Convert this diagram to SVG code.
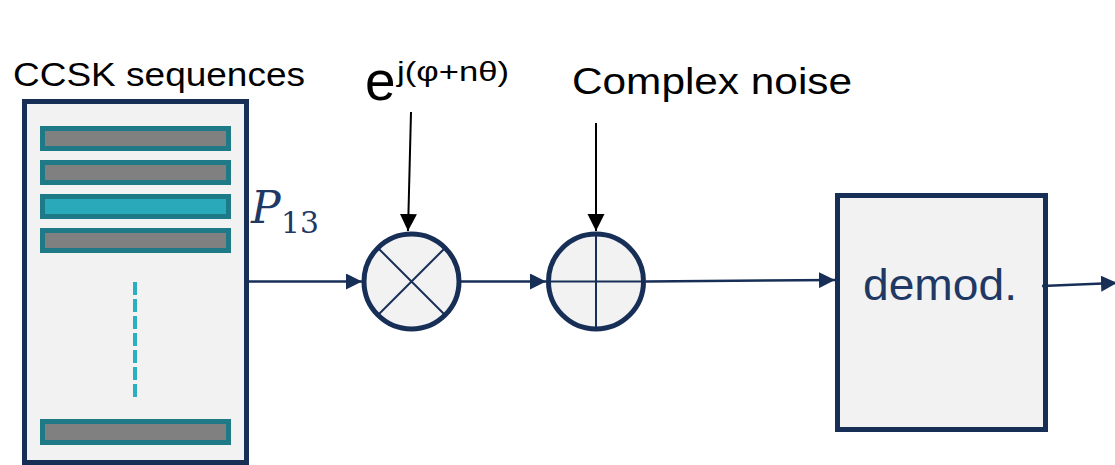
<svg xmlns="http://www.w3.org/2000/svg" width="1115" height="465" viewBox="0 0 1115 465">
<defs>
<marker id="navyArrow" markerUnits="userSpaceOnUse" markerWidth="18" markerHeight="16" refX="16" refY="8" orient="auto">
<path d="M0,0 L16,8 L0,16 Z" fill="#172F57"/>
</marker>
<marker id="blackArrow" markerUnits="userSpaceOnUse" markerWidth="18" markerHeight="18" refX="17" refY="8.5" orient="auto">
<path d="M0,0 L17,8.5 L0,17 Z" fill="#000"/>
</marker>
</defs>
<style>
.box{fill:#F2F2F2;stroke:#172F57;stroke-width:5}
.bar{fill:#808080;stroke:#1F7A87;stroke-width:5}
.bar-hi{fill:#2AA9BA;stroke:#1F7A87;stroke-width:5}
.sym{stroke:#172F57;stroke-width:2;fill:none}
.conn{stroke:#172F57;stroke-width:2.5;fill:none;marker-end:url(#navyArrow)}
.input{stroke:#000;stroke-width:2;fill:none;marker-end:url(#blackArrow)}
.lbl{font-family:"Liberation Sans",Arial,sans-serif;fill:#000}
.math{font-family:"DejaVu Serif","Liberation Serif",serif;fill:#1F3864}
</style>
<rect width="1115" height="465" fill="#fff"/>

<g id="ccsk">
<rect class="box" x="24.5" y="101.5" width="222" height="361"/>
<rect class="bar" x="42.5" y="128.5" width="186" height="20"/>
<rect class="bar" x="42.5" y="162.5" width="186" height="20"/>
<rect class="bar-hi" x="42.5" y="196.5" width="186" height="20"/>
<rect class="bar" x="42.5" y="230.5" width="186" height="20"/>
<line x1="135" y1="282" x2="135" y2="401" stroke="#2AAFC0" stroke-width="4" stroke-dasharray="13 4"/>
<rect class="bar" x="42.5" y="421.5" width="186" height="21"/>
<text class="lbl" x="13" y="86" font-size="34" textLength="292" lengthAdjust="spacingAndGlyphs">CCSK sequences</text>
<text class="math" x="251" y="223" font-style="italic" font-size="44">P</text>
<text class="math" x="281" y="233" font-size="30" textLength="38" lengthAdjust="spacingAndGlyphs">13</text>
</g>

<g id="multiplier">
<circle cx="411.5" cy="281.5" r="47.5" fill="#F2F2F2" stroke="#172F57" stroke-width="5"/>
<line class="sym" x1="378" y1="248" x2="445" y2="315"/>
<line class="sym" x1="445" y1="248" x2="378" y2="315"/>
<text class="lbl" x="365" y="100" font-size="55">e</text>
<text class="lbl" x="397" y="81" font-size="28" textLength="112" lengthAdjust="spacingAndGlyphs">j(φ+nθ)</text>
</g>

<g id="adder">
<circle cx="596" cy="281.5" r="47.5" fill="#F2F2F2" stroke="#172F57" stroke-width="5"/>
<line class="sym" x1="548.5" y1="281.5" x2="643.5" y2="281.5"/>
<line class="sym" x1="596" y1="234" x2="596" y2="329"/>
<text class="lbl" x="572" y="94" font-size="37" textLength="280" lengthAdjust="spacingAndGlyphs">Complex noise</text>
</g>

<g id="demod">
<rect class="box" x="837.5" y="195.5" width="208" height="234"/>
<text x="863" y="300" font-family="'Liberation Sans',Arial,sans-serif" font-size="45" fill="#1F3864" textLength="154" lengthAdjust="spacingAndGlyphs">demod.</text>
</g>

<g id="connectors">
<line class="conn" x1="249" y1="281.5" x2="362" y2="281.5"/>
<line class="conn" x1="461" y1="281.5" x2="546" y2="281.5"/>
<line class="conn" x1="646" y1="281.5" x2="835" y2="280"/>
<line class="conn" x1="1042" y1="286" x2="1117" y2="283"/>
<line class="input" x1="411" y1="112" x2="408" y2="231"/>
<line class="input" x1="596" y1="123" x2="596" y2="231"/>
</g>
</svg>
